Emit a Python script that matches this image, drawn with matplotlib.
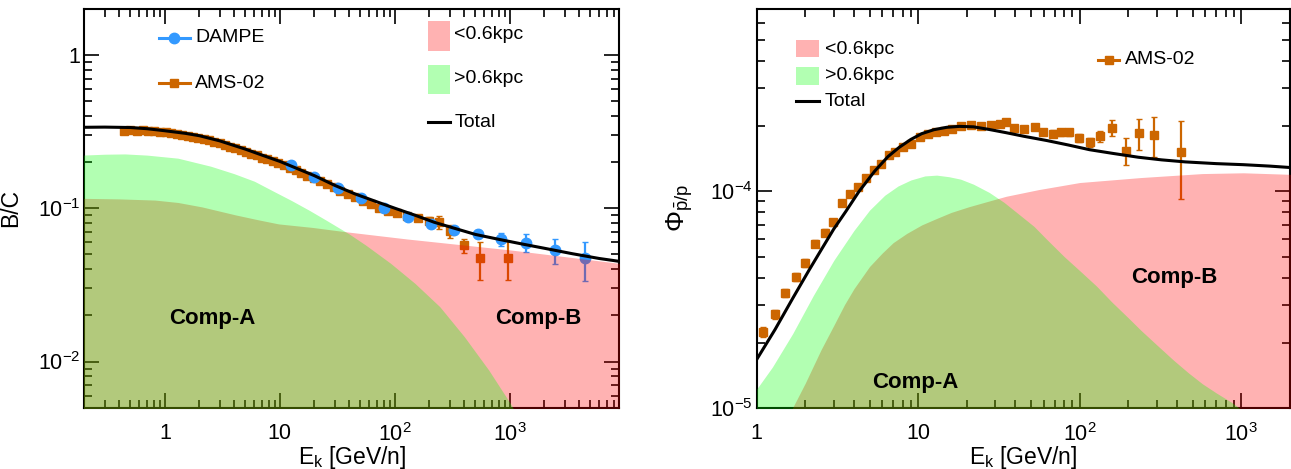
import matplotlib
matplotlib.use('Agg')
import matplotlib.pyplot as plt
import matplotlib.ticker as mticker
from matplotlib.patches import Rectangle
import numpy as np

plt.rcParams['font.family'] = ['Liberation Sans', 'DejaVu Sans']
plt.rcParams['mathtext.fontset'] = 'custom'
plt.rcParams['mathtext.rm'] = 'Liberation Sans'
plt.rcParams['mathtext.it'] = 'Liberation Sans:italic'
plt.rcParams['mathtext.bf'] = 'Liberation Sans:bold'

# ---------------- B/C panel data ----------------
bc_model_e = [0.19, 0.3, 0.5, 0.7, 1, 1.5, 2, 3, 5, 7, 10, 14, 20, 30, 45, 70,
              100, 150, 220, 320, 500, 800, 1300, 2000, 3500, 6000, 9000]
bc_total = [0.337, 0.338, 0.336, 0.330, 0.320, 0.308, 0.297, 0.275, 0.243, 0.222,
            0.202, 0.182, 0.163, 0.141, 0.124, 0.110, 0.100, 0.090, 0.081, 0.0745,
            0.0675, 0.0627, 0.0583, 0.0548, 0.0505, 0.0470, 0.0450]

bc_far_e = [0.19, 0.3, 0.45, 0.7, 1.3, 2.5, 4, 6, 9, 12.7, 18, 25, 40, 56, 92, 150,
            246, 403, 656, 1000, 1500, 3000]
bc_far = [0.222, 0.225, 0.226, 0.222, 0.212, 0.188, 0.168, 0.150, 0.128, 0.112,
          0.097, 0.084, 0.068, 0.0574, 0.0437, 0.0323, 0.0228, 0.0145, 0.0088,
          0.0054, 0.0032, 0.0015]

bc_near_e = [0.19, 0.4, 0.82, 1.3, 2.1, 4.1, 6.5, 9.75, 19, 37, 128, 1000, 9000]
bc_near = [0.116, 0.115, 0.113, 0.109, 0.102, 0.0905, 0.084, 0.079, 0.075, 0.0703,
           0.063, 0.0535, 0.0437]

dampe_e = [12.6, 19.9, 32.0, 51.1, 80.8, 130, 206, 328, 524, 835, 1387, 2483, 4516]
dampe_bc = [0.192, 0.160, 0.136, 0.116, 0.100, 0.0877, 0.0785, 0.0725, 0.0683,
            0.0630, 0.0597, 0.0532, 0.0470]
dampe_err = [0.003, 0.003, 0.002, 0.002, 0.002, 0.002, 0.002, 0.003, 0.004,
             0.006, 0.008, 0.010, 0.0135]

ams_bc_e = [0.44, 0.50, 0.57, 0.64, 0.72, 0.81, 0.91, 1.02, 1.14, 1.27, 1.42, 1.58,
            1.76, 1.96, 2.18, 2.42, 2.69, 2.99, 3.32, 3.69, 4.10, 4.56, 5.07, 5.64,
            6.28, 7.00, 7.80, 8.70, 9.72, 10.9, 12.2, 13.7, 15.4, 17.4, 19.7, 22.4,
            25.6, 29.3, 33.7, 38.9, 45.1, 52.6, 61.7, 72.8, 86.6, 104, 127, 158,
            200, 241, 304, 400, 556, 967]
ams_bc = [0.318, 0.323, 0.319, 0.324, 0.317, 0.318, 0.314, 0.312, 0.309, 0.305,
          0.302, 0.298, 0.293, 0.288, 0.283, 0.277, 0.271, 0.265, 0.259, 0.252,
          0.246, 0.239, 0.233, 0.227, 0.221, 0.214, 0.208, 0.202, 0.196, 0.190,
          0.183, 0.177, 0.170, 0.163, 0.157, 0.150, 0.143, 0.137, 0.130, 0.124,
          0.118, 0.112, 0.106, 0.101, 0.096, 0.093, 0.089, 0.086, 0.083, 0.081,
          0.071, 0.0572, 0.0472, 0.0476]
ams_bc_err = [0.007, 0.006, 0.006, 0.006, 0.005, 0.005, 0.005, 0.005, 0.005, 0.005,
              0.004, 0.004, 0.004, 0.004, 0.004, 0.004, 0.004, 0.004, 0.004, 0.004,
              0.003, 0.003, 0.003, 0.003, 0.003, 0.003, 0.003, 0.003, 0.003, 0.003,
              0.003, 0.003, 0.003, 0.003, 0.003, 0.003, 0.003, 0.003, 0.003, 0.003,
              0.003, 0.003, 0.003, 0.003, 0.003, 0.003, 0.003, 0.004, 0.005, 0.0075,
              0.007, 0.0058, 0.013, 0.0135]

# ---------------- pbar/p panel data ----------------
pp_model_e = [1, 1.3, 1.67, 2.1, 2.52, 3.0, 3.57, 4.3, 5.37, 6.5, 7.63, 9, 10.5,
              12.5, 15, 18, 22, 27, 35, 45, 62.5, 85, 115, 160, 230, 321, 450, 700,
              1030, 1500, 2018]
pp_total = [1.67e-5, 2.3e-5, 3.2e-5, 4.3e-5, 5.4e-5, 6.7e-5, 8.1e-5, 1.0e-4,
            1.24e-4, 1.45e-4, 1.60e-4, 1.74e-4, 1.85e-4, 1.93e-4, 1.98e-4, 2.0e-4,
            1.99e-4, 1.94e-4, 1.87e-4, 1.80e-4, 1.72e-4, 1.64e-4, 1.56e-4, 1.50e-4,
            1.44e-4, 1.40e-4, 1.37e-4, 1.345e-4, 1.33e-4, 1.31e-4, 1.29e-4]

pp_far_e = [1, 1.25, 1.67, 2.24, 3.0, 4.0, 5.0, 6.2, 7.5, 9, 11, 13, 15.5, 18.3, 22,
            27.5, 34, 41.5, 52, 62.5, 80, 100, 127, 158, 200, 239, 300, 380, 470,
            574, 700, 868, 1000, 1300]
pp_far = [1.22e-5, 1.54e-5, 2.2e-5, 3.3e-5, 4.8e-5, 6.6e-5, 8.2e-5, 9.6e-5, 1.06e-4,
          1.13e-4, 1.18e-4, 1.19e-4, 1.17e-4, 1.14e-4, 1.08e-4, 9.9e-5, 8.9e-5,
          7.9e-5, 6.9e-5, 6.0e-5, 5.0e-5, 4.3e-5, 3.65e-5, 3.08e-5, 2.6e-5, 2.28e-5,
          1.95e-5, 1.66e-5, 1.45e-5, 1.29e-5, 1.17e-5, 1.06e-5, 9.8e-6, 8.5e-6]

pp_near_e = [1.5, 1.67, 2.0, 2.5, 3.0, 3.5, 4.0, 5.0, 6.0, 7.0, 8.5, 10.5, 13, 16,
             20.6, 27, 35, 55.6, 100, 239, 574, 1030, 2018]
pp_near = [8e-6, 1e-5, 1.3e-5, 1.85e-5, 2.4e-5, 3.0e-5, 3.55e-5, 4.5e-5, 5.2e-5,
           5.8e-5, 6.4e-5, 7.0e-5, 7.5e-5, 8.0e-5, 8.5e-5, 9.0e-5, 9.5e-5, 1.02e-4,
           1.10e-4, 1.16e-4, 1.21e-4, 1.22e-4, 1.2e-4]

ams_pp_e = [1.10, 1.29, 1.50, 1.74, 2.00, 2.31, 2.64, 2.98, 3.37, 3.77, 4.23, 4.78,
            5.31, 5.90, 6.56, 7.20, 8.0, 9.0, 10.2, 11.5, 12.9, 14.5, 16.3, 18.3,
            21.2, 24.5, 28.4, 31.9, 34.9, 39.2, 45.3, 52.5, 58.9, 68.2, 76.6, 86.1,
            99.6, 115, 133, 159, 193, 232, 288, 422]
ams_pp = [2.24e-5, 2.70e-5, 3.39e-5, 4.04e-5, 4.67e-5, 5.73e-5, 6.44e-5, 7.21e-5,
          8.83e-5, 9.75e-5, 1.047e-4, 1.16e-4, 1.26e-4, 1.34e-4, 1.47e-4, 1.52e-4,
          1.60e-4, 1.66e-4, 1.78e-4, 1.85e-4, 1.89e-4, 1.91e-4, 1.95e-4, 2.0e-4,
          2.04e-4, 2.0e-4, 2.04e-4, 2.06e-4, 2.09e-4, 1.96e-4, 1.95e-4, 1.98e-4,
          1.88e-4, 1.85e-4, 1.88e-4, 1.88e-4, 1.77e-4, 1.69e-4, 1.80e-4, 1.97e-4,
          1.54e-4, 1.86e-4, 1.82e-4, 1.52e-4]
ams_pp_err = [1.2e-6, 1.3e-6, 1.5e-6, 1.7e-6, 1.9e-6, 2.2e-6, 2.4e-6, 2.6e-6,
              3.0e-6, 3.2e-6, 3.4e-6, 3.6e-6, 3.8e-6, 4.0e-6, 4.3e-6, 4.4e-6,
              4.6e-6, 4.7e-6, 5.0e-6, 5.1e-6, 5.2e-6, 5.2e-6, 5.3e-6, 5.4e-6,
              5.5e-6, 5.5e-6, 5.6e-6, 5.7e-6, 5.8e-6, 5.8e-6, 6.0e-6, 6.2e-6,
              6.4e-6, 6.6e-6, 7.0e-6, 7.5e-6, 8.0e-6, 8.5e-6, 1.0e-5, 1.6e-5,
              2.2e-5, 3.0e-5, 3.8e-5, 6.0e-5]

ORANGE = '#cc6600'
BLUE = '#3399ff'
PINK = (1.0, 0.0, 0.0)
GREEN = (0.0, 1.0, 0.0)


def log_label(v, pos):
    e = int(round(np.log10(v)))
    if e == 0:
        return '1'
    if e == 1:
        return '10'
    return r'$\mathregular{10^{%d}}$' % e


def style_axes(ax):
    ax.set_xscale('log')
    ax.set_yscale('log')
    for s in ax.spines.values():
        s.set_linewidth(1.5)
    ax.tick_params(which='both', direction='in', top=True, right=True,
                   labelsize=15.5, width=1.2)
    ax.tick_params(which='major', length=11)
    ax.tick_params(which='minor', length=5.5)
    ax.tick_params(axis='x', pad=11)
    ax.tick_params(axis='y', pad=3)
    ax.xaxis.set_major_formatter(mticker.FuncFormatter(log_label))
    ax.yaxis.set_major_formatter(mticker.FuncFormatter(log_label))
    ax.xaxis.set_minor_formatter(mticker.NullFormatter())
    ax.yaxis.set_minor_formatter(mticker.NullFormatter())
    ax.set_xlabel(r'$\mathregular{E_k}$ [GeV/n]', fontsize=16.5)
    ax.xaxis.set_label_coords(0.5, -0.09)
    ax.yaxis.set_label_coords(-0.116, 0.5)


def leg_box(ax, x0, x1, y0, y1, color, label, ty, tx):
    ax.add_patch(Rectangle((x0, y0), x1 - x0, y1 - y0, transform=ax.transAxes,
                           facecolor=color, alpha=0.3, lw=0, zorder=6))
    ax.text(tx, ty, label, transform=ax.transAxes, fontsize=14, va='center', zorder=6)


def leg_line(ax, x0, x1, y, label, tx, color='black', marker=None, ms=7):
    ax.plot([x0, x1], [y, y], color=color, lw=2.2, transform=ax.transAxes, zorder=6)
    if marker:
        ax.plot([(x0 + x1) / 2], [y], marker=marker, color=color, ms=ms,
                transform=ax.transAxes, zorder=6)
    ax.text(tx, y, label, transform=ax.transAxes, fontsize=14, va='center', zorder=6)


fig = plt.figure(figsize=(12.91, 4.69), dpi=100)

# ---------------- left: B/C ----------------
ax1 = fig.add_axes([0.06545, 0.1307, 0.4144, 0.8507])
style_axes(ax1)
ax1.set_xlim(0.2, 9000)
ax1.set_ylim(0.005, 2)
ax1.set_ylabel('B/C', fontsize=16.5)

ax1.errorbar(ams_bc_e, ams_bc, yerr=ams_bc_err, fmt='s', color=ORANGE, ms=6,
             elinewidth=1.6, capsize=2, zorder=3)
ax1.errorbar(dampe_e, dampe_bc, yerr=dampe_err, fmt='o', color=BLUE, ms=7.5,
             elinewidth=1.6, capsize=2, zorder=3.2)
ax1.plot(bc_model_e, bc_total, color='black', lw=2.2, zorder=3.5)
ax1.fill_between(bc_near_e, 1e-3, bc_near, color=PINK, alpha=0.3, lw=0, zorder=4)
ax1.fill_between(bc_far_e, 1e-3, bc_far, color=GREEN, alpha=0.3, lw=0, zorder=4.1)

ax1.text(0.238, 0.2246, 'Comp-A', transform=ax1.transAxes, fontsize=16,
         fontweight='bold', ha='center', va='center', zorder=6)
ax1.text(0.848, 0.2246, 'Comp-B', transform=ax1.transAxes, fontsize=16,
         fontweight='bold', ha='center', va='center', zorder=6)

leg_line(ax1, 0.139, 0.197, 0.927, 'DAMPE', 0.207, color=BLUE, marker='o', ms=7.5)
leg_line(ax1, 0.139, 0.197, 0.813, 'AMS-02', 0.207, color=ORANGE, marker='s', ms=6)
leg_box(ax1, 0.6415, 0.684, 0.8945, 0.970, PINK, '<0.6kpc', 0.936, 0.6916)
leg_box(ax1, 0.6415, 0.684, 0.787, 0.8595, GREEN, '>0.6kpc', 0.8255, 0.6916)
leg_line(ax1, 0.6415, 0.684, 0.715, 'Total', 0.6916)

# ---------------- right: pbar/p ----------------
ax2 = fig.add_axes([0.5861, 0.1307, 0.4131, 0.8507])
style_axes(ax2)
ax2.set_xlim(1, 2000)
ax2.set_ylim(1e-5, 7e-4)
ax2.set_ylabel(r'$\mathregular{\Phi_{\bar{p}/p}}$', fontsize=19)

ax2.errorbar(ams_pp_e, ams_pp, yerr=ams_pp_err, fmt='s', color=ORANGE, ms=6,
             elinewidth=1.6, capsize=2, zorder=3)
ax2.plot(pp_model_e, pp_total, color='black', lw=2.2, zorder=3.5)
ax2.fill_between(pp_near_e, 1e-6, pp_near, color=PINK, alpha=0.3, lw=0, zorder=4)
ax2.fill_between(pp_far_e, 1e-6, pp_far, color=GREEN, alpha=0.3, lw=0, zorder=4.1)

ax2.text(0.297, 0.062, 'Comp-A', transform=ax2.transAxes, fontsize=16,
         fontweight='bold', ha='center', va='center', zorder=6)
ax2.text(0.784, 0.327, 'Comp-B', transform=ax2.transAxes, fontsize=16,
         fontweight='bold', ha='center', va='center', zorder=6)

leg_box(ax2, 0.0737, 0.1168, 0.878, 0.922, PINK, '<0.6kpc', 0.899, 0.128)
leg_box(ax2, 0.0737, 0.1168, 0.810, 0.855, GREEN, '>0.6kpc', 0.833, 0.128)
leg_line(ax2, 0.0737, 0.1168, 0.768, 'Total', 0.128)
leg_line(ax2, 0.640, 0.680, 0.872, 'AMS-02', 0.691, color=ORANGE, marker='s', ms=6)

fig.savefig('out.png', dpi=100)
